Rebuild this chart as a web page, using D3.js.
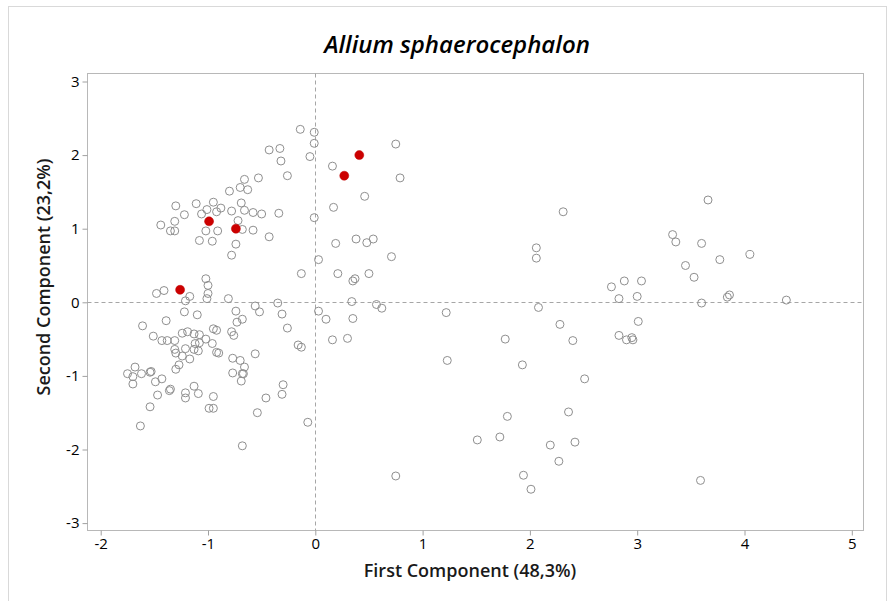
<!DOCTYPE html>
<html>
<head>
<meta charset="utf-8">
<script src="https://cdn.jsdelivr.net/npm/d3@7"></script>
<style>
  html, body { margin: 0; padding: 0; background: #fff; }
  svg { display: block; font-family: "Open Sans", "Noto Sans", sans-serif; }
</style>
</head>
<body>
<svg id="chart" width="894" height="601"></svg>
<script>
// PCA scores: first and second component for every sample
const pc1 = [
  -0.80, -0.70, -1.30, -1.11, -0.95, -1.22, -1.06, -1.01, -0.92, -0.88,
  -0.78, -1.44, -1.31, -1.35, -1.31, -1.02, -0.91, -0.69, -0.14, -0.01,
  -0.01, -0.05, -0.43, -0.33, -0.32, -0.26, -0.53, -0.66, -0.63, -0.66,
  -0.58, -0.50, -0.34, -0.01, -0.72, -0.68, -0.58, -0.43, 0.75, 0.16,
  0.79, 0.46, 0.17, 0.19, 0.38, 0.48, 0.54, 0.71, 0.03, -0.13,
  0.21, 0.35, 0.37, 0.50, 0.34, 0.57, 0.62, 0.03, 0.10, 0.35,
  -1.08, -0.96, -0.74, -0.78, -1.02, -1.00, -1.41, -1.48, -1.00, -1.17,
  -1.01, -0.81, -1.21, -1.22, -1.10, -1.61, -1.39, -0.74, -0.73, -1.51,
  -1.24, -1.19, -1.13, -1.08, -0.95, -0.92, -0.78, -0.76, -0.35, -0.56,
  -0.52, -0.31, -0.68, -0.26, -1.43, -1.38, -1.31, -1.02, -1.08, -1.12,
  -0.96, -1.31, -1.21, -1.30, -1.24, -1.17, -1.13, -1.09, -0.92, -0.90,
  -1.27, -1.30, -0.77, -0.77, -1.68, -1.75, -1.70, -1.62, -1.54, -1.53,
  -1.70, -1.49, -1.43, -1.47, -1.35, -1.36, -1.21, -1.21, -1.13, -1.09,
  -0.95, -0.99, -0.95, -1.54, -1.63, -0.68, -0.16, -0.13, -0.56, -0.70,
  -0.66, -0.67, -0.68, -0.69, -0.30, -0.31, -0.46, -0.54, -0.07, 0.16,
  0.30, 0.75,
  2.31, 2.06, 2.06, 2.08, 1.22, 2.28, 1.77, 2.40, 1.23, 1.93,
  2.51, 2.36, 1.79, 1.51, 1.72, 2.19, 2.42, 2.27, 1.94, 2.01,
  3.66, 3.33, 3.36, 3.60, 4.05, 3.77, 3.45, 3.53, 2.88, 3.04,
  2.76, 2.83, 3.00, 3.60, 3.84, 3.86, 4.39, 3.01, 2.83, 2.90,
  2.95, 2.96, 3.59
];
const pc2 = [
  1.51, 1.56, 1.31, 1.34, 1.36, 1.19, 1.20, 1.26, 1.23, 1.28,
  1.24, 1.05, 1.10, 0.97, 0.97, 0.97, 0.97, 1.35, 2.35, 2.31,
  2.16, 1.98, 2.07, 2.09, 1.92, 1.72, 1.69, 1.67, 1.53, 1.25,
  1.22, 1.20, 1.21, 1.15, 1.11, 0.99, 0.98, 0.89, 2.15, 1.85,
  1.69, 1.44, 1.29, 0.80, 0.86, 0.81, 0.86, 0.62, 0.58, 0.39,
  0.39, 0.29, 0.32, 0.39, 0.01, -0.03, -0.08, -0.12, -0.23, -0.22,
  0.84, 0.83, 0.79, 0.64, 0.32, 0.23, 0.16, 0.12, 0.12, 0.08,
  0.05, 0.05, 0.02, -0.13, -0.17, -0.32, -0.25, -0.12, -0.27, -0.46,
  -0.42, -0.40, -0.43, -0.44, -0.36, -0.38, -0.40, -0.45, -0.01, -0.05,
  -0.13, -0.16, -0.23, -0.35, -0.52, -0.52, -0.52, -0.50, -0.55, -0.56,
  -0.56, -0.64, -0.63, -0.69, -0.73, -0.77, -0.64, -0.66, -0.68, -0.69,
  -0.85, -0.91, -0.76, -0.96, -0.88, -0.97, -1.01, -0.97, -0.95, -0.94,
  -1.11, -1.08, -1.04, -1.26, -1.18, -1.20, -1.23, -1.30, -1.14, -1.24,
  -1.28, -1.44, -1.44, -1.42, -1.68, -1.95, -0.58, -0.61, -0.70, -0.79,
  -0.88, -0.97, -0.97, -1.07, -1.12, -1.25, -1.30, -1.50, -1.63, -0.51,
  -0.49, -2.36,
  1.23, 0.74, 0.60, -0.07, -0.14, -0.30, -0.50, -0.52, -0.79, -0.85,
  -1.04, -1.49, -1.55, -1.87, -1.83, -1.94, -1.90, -2.16, -2.35, -2.54,
  1.39, 0.92, 0.82, 0.80, 0.65, 0.58, 0.50, 0.34, 0.29, 0.29,
  0.21, 0.05, 0.08, -0.01, 0.07, 0.10, 0.03, -0.26, -0.45, -0.51,
  -0.48, -0.51, -2.42
];

// Highlighted samples, drawn as filled red dots
const redPc1 = [-0.99, -0.74, 0.41, 0.27, -1.26];
const redPc2 = [1.10, 1.00, 2.00, 1.72, 0.17];

const xTicks = [-2, -1, 0, 1, 2, 3, 4, 5];
const yTicks = [-3, -2, -1, 0, 1, 2, 3];

const titleText = "Allium sphaerocephalon";
const xTitle = "First Component (48,3%)";
const yTitle = "Second Component (23,2%)";

const svg = d3.select("#chart");

// outer figure border
svg.append("rect")
  .attr("x", 8.5).attr("y", 6.5)
  .attr("width", 878).attr("height", 640)
  .attr("fill", "none").attr("stroke", "#d9d9d9").attr("stroke-width", 1);

// plot frame in pixels
const frame = { left: 87.5, right: 863.5, top: 73.5, bottom: 530.5 };

const x = d3.scaleLinear().domain([-2, 5]).range([100.7, 851.8]);
const y = d3.scaleLinear().domain([-3, 3]).range([523.1, 81.5]);

svg.append("rect")
  .attr("x", frame.left).attr("y", frame.top)
  .attr("width", frame.right - frame.left)
  .attr("height", frame.bottom - frame.top)
  .attr("fill", "none").attr("stroke", "#b8b8b8").attr("stroke-width", 1);

// reference lines through the origin
svg.append("line")
  .attr("x1", Math.round(x(0)) + 0.5).attr("x2", Math.round(x(0)) + 0.5)
  .attr("y1", frame.top).attr("y2", frame.bottom)
  .attr("stroke", "#a6a6a6").attr("stroke-dasharray", "4,3");
svg.append("line")
  .attr("x1", frame.left).attr("x2", frame.right)
  .attr("y1", Math.round(y(0)) + 0.5).attr("y2", Math.round(y(0)) + 0.5)
  .attr("stroke", "#a6a6a6").attr("stroke-dasharray", "4,3");

// axes
const xAxis = d3.axisBottom(x).tickValues(xTicks).tickSize(5).tickPadding(3)
  .tickFormat(d => String(d));
const yAxis = d3.axisLeft(y).tickValues(yTicks).tickSize(5).tickPadding(3)
  .tickFormat(d => String(d));

const gx = svg.append("g").attr("transform", `translate(0,${frame.bottom})`).call(xAxis);
const gy = svg.append("g").attr("transform", `translate(${frame.left},0)`).call(yAxis);
[gx, gy].forEach(g => {
  g.select(".domain").remove();
  g.selectAll(".tick line").attr("stroke", "#a0a0a0");
  g.selectAll(".tick text")
    .attr("fill", "#000")
    .style("font-size", "15px")
    .style("font-weight", "500")
    .style("font-family", "'Open Sans', sans-serif");
});

// sample points
const pts = pc1.map((v, i) => ({ a: v, b: pc2[i] }));
svg.append("g").selectAll("circle")
  .data(pts).join("circle")
  .attr("cx", d => x(d.a)).attr("cy", d => y(d.b)).attr("r", 4)
  .attr("fill", "none").attr("stroke", "#8f8f8f").attr("stroke-width", 1);

const reds = redPc1.map((v, i) => ({ a: v, b: redPc2[i] }));
svg.append("g").selectAll("circle")
  .data(reds).join("circle")
  .attr("cx", d => x(d.a)).attr("cy", d => y(d.b)).attr("r", 4.5)
  .attr("fill", "#cc0000").attr("stroke", "#c00000").attr("stroke-width", 0.5);

// titles
svg.append("text")
  .attr("x", 457).attr("y", 53)
  .attr("text-anchor", "middle")
  .style("font-size", "24px").style("font-style", "italic").style("font-weight", "600")
  .attr("fill", "#000")
  .text(titleText);

svg.append("text")
  .attr("x", 470).attr("y", 577)
  .attr("text-anchor", "middle")
  .style("font-size", "18px").style("font-weight", "600").attr("fill", "#1a1a1a")
  .text(xTitle);

svg.append("text")
  .attr("transform", `translate(50,${(frame.top + frame.bottom) / 2 - 25}) rotate(-90)`)
  .attr("text-anchor", "middle")
  .style("font-size", "18px").style("font-weight", "600").attr("fill", "#1a1a1a")
  .text(yTitle);
</script>
</body>
</html>
